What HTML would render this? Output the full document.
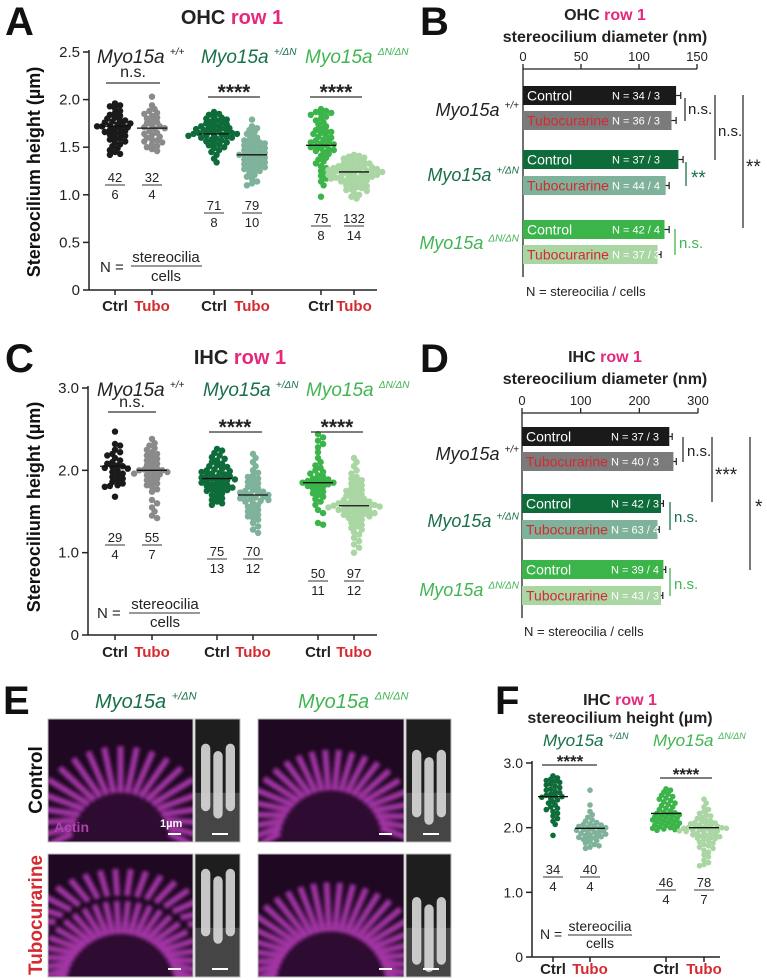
<!DOCTYPE html>
<html><head><meta charset="utf-8">
<style>
html,body{margin:0;padding:0;background:#fff;width:767px;height:980px;overflow:hidden;}
svg{display:block;font-family:"Liberation Sans",Arial,sans-serif;}
</style></head>
<body>
<svg id="fig" width="767" height="980" viewBox="0 0 767 980" xmlns="http://www.w3.org/2000/svg">
<defs>
<filter id="blur" x="-10%" y="-10%" width="120%" height="120%"><feGaussianBlur stdDeviation="1.8"/></filter>
<filter id="blur2"><feGaussianBlur stdDeviation="0.8"/></filter>
</defs>
</svg>
<script>
// ---------- DATA ----------
const ohcCtrlWT=[1.96,1.94,1.93,1.91,1.88,1.86,1.84,1.83,1.81,1.80,1.78,1.77,1.76,1.75,1.74,1.73,1.73,1.72,1.72,1.71,1.70,1.69,1.68,1.67,1.66,1.65,1.64,1.63,1.62,1.60,1.59,1.58,1.56,1.55,1.53,1.51,1.49,1.47,1.45,1.43,1.42,1.78];
const ohcTuboWT=[2.03,1.94,1.90,1.88,1.86,1.85,1.83,1.81,1.80,1.78,1.76,1.75,1.73,1.72,1.71,1.70,1.69,1.67,1.65,1.64,1.63,1.61,1.60,1.58,1.57,1.55,1.53,1.51,1.50,1.48,1.46,1.56];
const ohcCtrlHet=[1.87,1.85,1.84,1.82,1.81,1.80,1.79,1.78,1.77,1.76,1.75,1.74,1.73,1.72,1.72,1.71,1.70,1.70,1.69,1.68,1.68,1.67,1.66,1.66,1.65,1.65,1.64,1.64,1.63,1.63,1.62,1.62,1.61,1.60,1.60,1.59,1.58,1.57,1.56,1.55,1.54,1.53,1.52,1.50,1.49,1.47,1.45,1.42,1.38,1.34];
const ohcTuboHet=[1.79,1.72,1.70,1.68,1.66,1.64,1.62,1.60,1.58,1.57,1.56,1.55,1.54,1.53,1.52,1.51,1.50,1.49,1.48,1.47,1.46,1.45,1.44,1.43,1.42,1.42,1.41,1.40,1.39,1.38,1.37,1.36,1.35,1.34,1.33,1.32,1.31,1.30,1.29,1.28,1.27,1.26,1.25,1.23,1.21,1.19,1.17,1.14,1.12,1.10];
const ohcCtrlHom=[1.90,1.88,1.87,1.86,1.85,1.84,1.82,1.80,1.78,1.76,1.74,1.72,1.70,1.68,1.67,1.66,1.65,1.64,1.62,1.61,1.60,1.58,1.57,1.56,1.55,1.54,1.53,1.52,1.51,1.50,1.49,1.48,1.47,1.46,1.45,1.43,1.41,1.39,1.37,1.35,1.33,1.30,1.28,1.25,1.22,1.20,1.17,1.14,1.10,0.98];
const ohcTuboHom=[1.42,1.41,1.40,1.39,1.38,1.37,1.36,1.35,1.34,1.33,1.32,1.31,1.30,1.30,1.29,1.29,1.28,1.28,1.27,1.27,1.26,1.26,1.25,1.25,1.24,1.24,1.23,1.23,1.22,1.22,1.21,1.21,1.20,1.20,1.19,1.19,1.18,1.18,1.17,1.17,1.16,1.15,1.14,1.13,1.12,1.11,1.10,1.09,1.08,1.07,1.06,1.05,1.04,1.02,1.00,0.98,0.96,1.15,1.25,1.33];
const ohcMeans=[1.72,1.70,1.64,1.42,1.52,1.24];
const ohcNum=["42","32","71","79","75","132"];
const ohcDen=["6","4","8","10","8","14"];
const ohcTicks=[0,0.5,1,1.5,2,2.5];
const ohcTickLabels=["0","0.5","1.0","1.5","2.0","2.5"];
const ihcCtrlWT=[2.47,2.32,2.30,2.25,2.22,2.20,2.18,2.15,2.12,2.10,2.08,2.06,2.05,2.04,2.03,2.02,2.00,1.98,1.96,1.94,1.92,1.90,1.88,1.86,1.84,1.82,1.81,1.80,1.68];
const ihcTuboWT=[2.38,2.33,2.30,2.27,2.25,2.22,2.20,2.18,2.16,2.14,2.12,2.10,2.08,2.06,2.04,2.02,2.01,2.00,2.00,1.99,1.98,1.97,1.96,1.95,1.94,1.92,1.90,1.88,1.86,1.84,1.82,1.80,1.77,1.74,1.64,1.60,1.55,1.50,1.45,1.42];
const ihcCtrlHet=[2.26,2.24,2.21,2.18,2.16,2.14,2.12,2.10,2.08,2.06,2.05,2.04,2.02,2.01,2.00,1.99,1.98,1.97,1.96,1.95,1.94,1.93,1.92,1.91,1.90,1.90,1.89,1.88,1.87,1.86,1.85,1.84,1.83,1.82,1.81,1.80,1.79,1.78,1.77,1.76,1.75,1.74,1.72,1.70,1.68,1.66,1.64,1.62,1.60,1.58];
const ihcTuboHet=[2.20,2.15,2.10,2.05,2.00,1.97,1.94,1.92,1.90,1.88,1.86,1.84,1.82,1.80,1.78,1.76,1.75,1.74,1.73,1.72,1.71,1.70,1.69,1.68,1.67,1.66,1.65,1.64,1.63,1.62,1.60,1.58,1.56,1.54,1.52,1.50,1.48,1.46,1.44,1.42,1.40,1.36,1.32,1.28,1.24];
const ihcCtrlHom=[2.44,2.40,2.36,2.32,2.28,2.22,2.15,2.10,2.06,2.03,2.00,1.98,1.96,1.94,1.92,1.90,1.89,1.88,1.87,1.86,1.85,1.84,1.83,1.82,1.81,1.80,1.78,1.76,1.74,1.72,1.70,1.68,1.65,1.62,1.58,1.52,1.48,1.36,1.34,1.85];
const ihcTuboHom=[2.15,2.10,2.05,2.00,1.96,1.92,1.90,1.88,1.86,1.84,1.82,1.80,1.78,1.76,1.75,1.74,1.72,1.70,1.69,1.68,1.66,1.65,1.64,1.63,1.62,1.61,1.60,1.59,1.58,1.57,1.57,1.56,1.56,1.55,1.55,1.54,1.53,1.52,1.51,1.50,1.49,1.48,1.47,1.46,1.45,1.44,1.43,1.42,1.40,1.38,1.36,1.34,1.32,1.30,1.28,1.25,1.22,1.18,1.14,1.10,1.06,1.00,1.58,1.60,1.52,1.48];
const ihcMeans=[2.05,2.00,1.90,1.70,1.85,1.57];
const ihcNum=["29","55","75","70","50","97"];
const ihcDen=["4","7","13","12","11","12"];
const ihcTicks=[0,1,2,3];
const ihcTickLabels=["0","1.0","2.0","3.0"];
const fCtrlHet=[2.80,2.77,2.75,2.73,2.72,2.70,2.68,2.66,2.64,2.62,2.60,2.58,2.56,2.54,2.52,2.50,2.49,2.48,2.47,2.45,2.43,2.40,2.38,2.35,2.32,2.30,2.28,2.25,2.22,2.18,2.14,2.10,2.05,1.88];
const fTuboHet=[2.58,2.35,2.25,2.20,2.16,2.12,2.10,2.08,2.06,2.04,2.03,2.02,2.01,2.00,1.99,1.98,1.97,1.96,1.95,1.94,1.93,1.92,1.91,1.90,1.89,1.88,1.87,1.86,1.85,1.84,1.83,1.82,1.80,1.78,1.76,1.74,1.72,1.70,1.68,2.05];
const fCtrlHom=[2.60,2.58,2.55,2.52,2.50,2.48,2.46,2.44,2.42,2.40,2.38,2.36,2.34,2.32,2.30,2.28,2.26,2.24,2.23,2.22,2.21,2.20,2.19,2.18,2.17,2.16,2.15,2.14,2.13,2.12,2.11,2.10,2.09,2.08,2.07,2.06,2.05,2.04,2.03,2.02,2.01,2.00,1.99,1.98,1.97,1.96];
const fTuboHom=[2.44,2.38,2.32,2.28,2.25,2.22,2.20,2.18,2.16,2.14,2.12,2.10,2.09,2.08,2.07,2.06,2.05,2.04,2.03,2.02,2.01,2.00,2.00,1.99,1.99,1.98,1.98,1.97,1.96,1.95,1.94,1.93,1.92,1.91,1.90,1.89,1.88,1.87,1.86,1.85,1.84,1.83,1.82,1.80,1.78,1.76,1.74,1.72,1.70,1.68,1.65,1.62,1.58,1.55,1.50,1.46,1.43,1.41,2.00,1.95];
const fMeans=[2.48,1.99,2.22,2.00];
const fNum=["34","40","46","78"];
const fDen=["4","4","4","7"];
const bValues=[132,128,134,123,122,116];
const bErrors=[4,4,4,3,4,3];
const bNLabels=["N = 34 / 3","N = 36 / 3","N = 37 / 3","N = 44 / 4","N = 42 / 4","N = 37 / 3"];
const bTicks=[0,50,100,150];
const dValues=[251,258,237,231,241,237];
const dErrors=[5,5,4,3,4,3];
const dNLabels=["N = 37 / 3","N = 40 / 3","N = 42 / 3","N = 63 / 4","N = 39 / 4","N = 43 / 3"];
const dTicks=[0,100,200,300];
const barCats=["Control","Tubocurarine","Control","Tubocurarine","Control","Tubocurarine"];

// ---------- STYLE ----------
const C_WT='#1a1a1a', C_WT2='#8a8a8a', C_HET='#0e6b3a', C_HET2='#7fb29b', C_HOM='#3bb54a', C_HOM2='#a9d6a3';
const T_HET='#177048', T_HOM='#41b552', PINK='#e6287c', RED='#d42a30';
const svg=document.getElementById('fig');
const NS='http://www.w3.org/2000/svg';

function mk(tag,attrs,name,parent){
  const el=document.createElementNS(NS,tag);
  for(const k in attrs) el.setAttribute(k,attrs[k]);
  
  
  (parent||svg).appendChild(el);
  return el;
}
function txt(x,y,s,o,name,parent){
  o=o||{};
  const el=mk('text',{x:x,y:y,'font-size':o.size||14,'font-weight':o.weight||'normal','font-style':o.style||'normal',fill:o.fill||'#222','text-anchor':o.anchor||'start'},name,parent);
  if(o.rotate!==undefined) el.setAttribute('transform','rotate('+o.rotate+' '+x+' '+y+')');
  el.textContent=s;
  return el;
}
function geno(x,y,sup,fill,size,anchor,name){
  const el=mk('text',{x:x,y:y,'font-size':size,'font-style':'italic',fill:fill,'text-anchor':anchor||'start'},name);
  const t1=mk('tspan',{},'gene-name',el); t1.textContent='Myo15a ';
  const t2=mk('tspan',{'font-size':Math.round(size*0.55),dy:-size*0.42},'genotype-superscript',el); t2.textContent=sup;
  return el;
}
function line(x1,y1,x2,y2,stroke,w,name,parent){return mk('line',{x1:x1,y1:y1,x2:x2,y2:y2,stroke:stroke,'stroke-width':w||1},name,parent);}
function fraction(cx,yb,num,den,name){
  txt(cx,yb,num,{size:13,anchor:'middle',fill:'#222'},name+'-numerator');
  line(cx-10,yb+3,cx+10,yb+3,'#333',1,name+'-line');
  txt(cx,yb+17,den,{size:13,anchor:'middle',fill:'#222'},name+'-denominator');
}
function swarm(values,cx,yScale,r,color,name){
  const placed=[];
  const sorted=values.slice().sort((a,b)=>b-a);
  const step=r*0.8;
  sorted.forEach(v=>{
    const y=yScale(v);
    let k=0,x=cx;
    while(true){
      const off=(k===0?0:Math.ceil(k/2)*step*(k%2?1:-1));
      x=cx+off;
      if(!placed.some(p=>(p[0]-x)**2+(p[1]-y)**2<(r*1.4)**2)) break;
      k++; if(k>40) break;
    }
    placed.push([x,y]);
  });
  placed.forEach(p=>{
    mk('circle',{cx:p[0].toFixed(1),cy:p[1].toFixed(1),r:r,fill:color},name);
  });
}
function scatterPanel(cfg){
  const ys=v=>cfg.y0-(v/cfg.max)*(cfg.y0-cfg.yTop);
  line(cfg.ax,cfg.yTop-2,cfg.ax,cfg.y0,'#222',1.5,'y-axis');
  line(cfg.ax,cfg.y0,cfg.xEnd,cfg.y0,'#222',1.5,'x-axis');
  cfg.ticks.forEach((t,i)=>{
    line(cfg.ax-6,ys(t),cfg.ax,ys(t),'#222',1.5,'y-tick');
    txt(cfg.ax-9,ys(t)+5,cfg.tickLabels[i],{size:cfg.tickSize,anchor:'end',fill:'#222'},'y-tick-label');
  });
  cfg.groups.forEach((g,i)=>{
    const cx=cfg.gx[i];
    line(cx,cfg.y0,cx,cfg.y0+5,'#222',1.5,'x-tick');
    swarm(g,cx,ys,cfg.r,cfg.colors[i],'data-point');
    line(cx-15,ys(cfg.means[i]),cx+15,ys(cfg.means[i]),'#111',1.3,'median-line');
    txt(cx,cfg.labY,i%2?'Tubo':'Ctrl',{size:cfg.labSize,weight:'bold',anchor:'middle',fill:i%2?RED:'#222'},i%2?'x-label-tubo':'x-label-ctrl');
    fraction(cx,cfg.fracY[Math.floor(i/2)],cfg.num[i],cfg.den[i],'n-count');
  });
}
function barPanel(cfg){
  const xs=v=>cfg.x0+v*cfg.k;
  line(cfg.x0,cfg.axY,xs(cfg.ticks[cfg.ticks.length-1]),cfg.axY,'#222',1.3,'x-axis');
  line(cfg.x0,cfg.axY,cfg.x0,cfg.axBottom,'#222',1.3,'y-axis');
  cfg.ticks.forEach(t=>{
    line(xs(t),cfg.axY-5,xs(t),cfg.axY,'#222',1.3,'x-tick');
    txt(xs(t),cfg.axY-8,String(t),{size:13,anchor:'middle'},'x-tick-label');
  });
  cfg.values.forEach((v,i)=>{
    const y=cfg.tops[i];
    mk('rect',{x:cfg.x0,y:y,width:(xs(v)-cfg.x0).toFixed(1),height:cfg.h,fill:cfg.colors[i]},i%2?'bar-tubocurarine':'bar-control');
    const e=cfg.errors[i], ym=y+cfg.h/2;
    line(xs(v),ym,xs(v+e),ym,'#222',1.2,'error-bar');
    line(xs(v+e),ym-3.5,xs(v+e),ym+3.5,'#222',1.2,'error-cap');
    txt(cfg.x0+4,ym+5,barCats[i],{size:14,fill:i%2?RED:'#fff'},'bar-label');
    txt(cfg.x0+89,ym+4,cfg.nLabels[i],{size:11,fill:'#fff'},'bar-n-label');
  });
}
function bracket(x,y1,y2,label,lx,ly,color,size,name){
  line(x,y1,x,y2,color==='#222'?'#333':color,1.3,name+'-line');
  txt(lx,ly,label,{size:size,fill:color},name+'-label');
}

// ---------- PANEL A ----------
txt(5,35,'A',{size:40,weight:'bold',fill:'#111'},'panel-label-a');
const tA=mk('text',{x:232,y:24,'font-size':20,'font-weight':'bold','text-anchor':'middle',fill:'#222'},'title-a');
const tA1=mk('tspan',{},'title-cell',tA); tA1.textContent='OHC ';
const tA2=mk('tspan',{fill:PINK},'title-row',tA); tA2.textContent='row 1';
txt(40,172,'Stereocilium height (µm)',{size:18,weight:'bold',anchor:'middle',rotate:-90,fill:'#111'},'y-axis-title-a');
geno(97,63,'+/+','#222',19,'start','genotype-wt-a');
geno(201,63,'+/ΔN',T_HET,19,'start','genotype-het-a');
geno(305,63,'ΔN/ΔN',T_HOM,19,'start','genotype-hom-a');
scatterPanel({ax:89,y0:290,yTop:52,max:2.5,ticks:ohcTicks,tickLabels:ohcTickLabels,tickSize:15,xEnd:377,
  gx:[115,152,214,252,321,354],groups:[ohcCtrlWT,ohcTuboWT,ohcCtrlHet,ohcTuboHet,ohcCtrlHom,ohcTuboHom],
  colors:[C_WT,C_WT2,C_HET,C_HET2,C_HOM,C_HOM2],means:ohcMeans,r:3.2,labY:311,labSize:15,
  num:ohcNum,den:ohcDen,fracY:[182,210,223]});
line(106,83,160,83,'#333',1.2,'significance-line'); txt(133,77,'n.s.',{size:16,anchor:'middle'},'significance-label');
line(208,97,260,97,'#333',1.2,'significance-line'); txt(234,99,'****',{size:21,anchor:'middle',weight:'bold'},'significance-label');
line(310,97,362,97,'#333',1.2,'significance-line'); txt(336,99,'****',{size:21,anchor:'middle',weight:'bold'},'significance-label');
txt(100,272,'N =',{size:15},'n-legend-label');
txt(166,262,'stereocilia',{size:15,anchor:'middle'},'n-legend-numerator');
line(131,266,202,266,'#333',1,'n-legend-line');
txt(166,281,'cells',{size:15,anchor:'middle'},'n-legend-denominator');

// ---------- PANEL C ----------
txt(5,372,'C',{size:40,weight:'bold',fill:'#111'},'panel-label-c');
const tC=mk('text',{x:240,y:364,'font-size':20,'font-weight':'bold','text-anchor':'middle',fill:'#222'},'title-c');
const tC1=mk('tspan',{},'title-cell',tC); tC1.textContent='IHC ';
const tC2=mk('tspan',{fill:PINK},'title-row',tC); tC2.textContent='row 1';
txt(40,507,'Stereocilium height (µm)',{size:18,weight:'bold',anchor:'middle',rotate:-90,fill:'#111'},'y-axis-title-c');
geno(97,396,'+/+','#222',19,'start','genotype-wt-c');
geno(203,396,'+/ΔN',T_HET,19,'start','genotype-het-c');
geno(306,396,'ΔN/ΔN',T_HOM,19,'start','genotype-hom-c');
scatterPanel({ax:88,y0:635,yTop:388,max:3,ticks:ihcTicks,tickLabels:ihcTickLabels,tickSize:15,xEnd:377,
  gx:[115,152,217,253,318,354],groups:[ihcCtrlWT,ihcTuboWT,ihcCtrlHet,ihcTuboHet,ihcCtrlHom,ihcTuboHom],
  colors:[C_WT,C_WT2,C_HET,C_HET2,C_HOM,C_HOM2],means:ihcMeans,r:3.2,labY:657,labSize:15,
  num:ihcNum,den:ihcDen,fracY:[542,556,578]});
line(108,412,156,412,'#333',1.2,'significance-line'); txt(132,407,'n.s.',{size:16,anchor:'middle'},'significance-label');
line(209,432,262,432,'#333',1.2,'significance-line'); txt(235,434,'****',{size:21,anchor:'middle',weight:'bold'},'significance-label');
line(311,432,363,432,'#333',1.2,'significance-line'); txt(337,434,'****',{size:21,anchor:'middle',weight:'bold'},'significance-label');
txt(97,618,'N =',{size:15},'n-legend-label');
txt(165,609,'stereocilia',{size:15,anchor:'middle'},'n-legend-numerator');
line(129,613,200,613,'#333',1,'n-legend-line');
txt(165,627,'cells',{size:15,anchor:'middle'},'n-legend-denominator');

// ---------- PANEL B ----------
txt(420,35,'B',{size:40,weight:'bold',fill:'#111'},'panel-label-b');
const tB=mk('text',{x:605,y:20,'font-size':16,'font-weight':'bold','text-anchor':'middle',fill:'#222'},'title-b');
const tB1=mk('tspan',{},'title-cell',tB); tB1.textContent='OHC ';
const tB2=mk('tspan',{fill:PINK},'title-row',tB); tB2.textContent='row 1';
txt(605,42,'stereocilium diameter (nm)',{size:16,weight:'bold',anchor:'middle'},'axis-title-b');
barPanel({x0:523,k:174/150,axY:69,axBottom:277,ticks:bTicks,values:bValues,errors:bErrors,nLabels:bNLabels,
  tops:[86,111,150,176,220,245],h:19,colors:[C_WT,'#7b7b7b',C_HET,C_HET2,C_HOM,C_HOM2]});
geno(519,116,'+/+','#222',18,'end','genotype-wt-b');
geno(519,181,'+/ΔN',T_HET,18,'end','genotype-het-b');
geno(519,249,'ΔN/ΔN',T_HOM,18,'end','genotype-hom-b');
bracket(685,98,121,'n.s.',688,114,'#222',15,'significance-wt');
bracket(715,95,160,'n.s.',718,136,'#222',15,'significance-wt-het');
bracket(686,162,186,'**',691,184,T_HET,19,'significance-het');
bracket(675,229,255,'n.s.',679,248,T_HOM,15,'significance-hom');
bracket(743,95,228,'**',746,173,'#222',19,'significance-wt-hom');
txt(526,296,'N = stereocilia / cells',{size:13},'n-legend-b');

// ---------- PANEL D ----------
txt(420,372,'D',{size:40,weight:'bold',fill:'#111'},'panel-label-d');
const tD=mk('text',{x:605,y:362,'font-size':16,'font-weight':'bold','text-anchor':'middle',fill:'#222'},'title-d');
const tD1=mk('tspan',{},'title-cell',tD); tD1.textContent='IHC ';
const tD2=mk('tspan',{fill:PINK},'title-row',tD); tD2.textContent='row 1';
txt(605,384,'stereocilium diameter (nm)',{size:16,weight:'bold',anchor:'middle'},'axis-title-d');
barPanel({x0:522,k:176/300,axY:413,axBottom:618,ticks:dTicks,values:dValues,errors:dErrors,nLabels:dNLabels,
  tops:[427,452,494,520,560,586],h:19,colors:[C_WT,'#7b7b7b',C_HET,C_HET2,C_HOM,C_HOM2]});
geno(519,460,'+/+','#222',18,'end','genotype-wt-d');
geno(519,527,'+/ΔN',T_HET,18,'end','genotype-het-d');
geno(519,596,'ΔN/ΔN',T_HOM,18,'end','genotype-hom-d');
bracket(683,437,462,'n.s.',687,456,'#222',15,'significance-wt');
bracket(712,437,502,'***',715,481,'#222',19,'significance-wt-het');
bracket(670,502,530,'n.s.',674,522,T_HET,15,'significance-het');
bracket(670,568,596,'n.s.',674,589,T_HOM,15,'significance-hom');
bracket(750,437,570,'*',755,513,'#222',19,'significance-wt-hom');
txt(524,636,'N = stereocilia / cells',{size:13},'n-legend-d');

// ---------- PANEL E (images) ----------
txt(3,714,'E',{size:40,weight:'bold',fill:'#111'},'panel-label-e');
geno(95,708,'+/ΔN',T_HET,20,'start','genotype-het-e');
geno(298,708,'ΔN/ΔN',T_HOM,20,'start','genotype-hom-e');
txt(42,780,'Control',{size:19,weight:'bold',anchor:'middle',rotate:-90,fill:'#111'},'row-label-control');
txt(42,915,'Tubocurarine',{size:19,weight:'bold',anchor:'middle',rotate:-90,fill:RED},'row-label-tubocurarine');
let clipId=0;
function confocal(x,y,w,h,rows,name){
  const g=mk('g',{},name);
  const cp=mk('clipPath',{id:'cp'+clipId},'clip',g);
  mk('rect',{x:x,y:y,width:w,height:h},'clip-rect',cp);
  const inner=mk('g',{'clip-path':'url(#cp'+(clipId++)+')'},'image-content',g);
  mk('rect',{x:x,y:y,width:w,height:h,fill:'#1f0822'},'image-background',inner);
  mk('ellipse',{cx:x+w*0.5,cy:y+h*1.0,rx:w*0.45,ry:h*0.45,fill:'#2e0b31'},'cell-glow',inner);
  const sg=mk('g',{filter:'url(#blur)',opacity:0.85},'stereocilia',inner);
  rows.forEach(rw=>{
    for(let a=190;a<=350;a+=rw.step){
      const rad=a*Math.PI/180, cx=x+w*0.5, cy=y+h*rw.cy;
      const r1=h*rw.r1, r2=h*rw.r2;
      const tilt=(a-270)*0.004;
      line((cx+r1*Math.cos(rad)).toFixed(1),(cy+r1*Math.sin(rad)).toFixed(1),(cx+r2*Math.cos(rad+tilt)).toFixed(1),(cy+r2*Math.sin(rad+tilt)).toFixed(1),'#b83cba',6,'stereocilium',sg);
    }
  });
  mk('rect',{x:x,y:y,width:w,height:h,fill:'none',stroke:'#bbb','stroke-width':1},'image-border',g);
  line(x+w-25,y+h-8,x+w-12,y+h-8,'#fff',2,'scale-bar',g);
}
function sem(x,y,w,h,n,top,name){
  const g=mk('g',{},name);
  mk('rect',{x:x,y:y,width:w,height:h,fill:'#1e1e1e'},'sem-background',g);
  mk('rect',{x:x,y:y+h*0.6,width:w,height:h*0.4,fill:'#555',opacity:0.7},'sem-base',g);
  for(let i=0;i<n;i++){
    const cx=x+6+i*(w-8)/n;
    mk('rect',{x:cx,y:y+h*(top+(i%2)*0.06),width:(w-8)/n-3,height:h*0.55,rx:5,fill:'#d8d8d8',opacity:0.9},'sem-stereocilium',g);
  }
  mk('rect',{x:x,y:y,width:w,height:h,fill:'none',stroke:'#bbb','stroke-width':1},'sem-border',g);
  line(x+w-28,y+h-8,x+w-12,y+h-8,'#fff',2,'scale-bar',g);
}
confocal(48,719,145,123,[{cy:1.0,r1:0.4,r2:0.78,step:8}],'confocal-het-control');
sem(195,719,45,123,3,0.2,'sem-het-control');
confocal(258,719,146,123,[{cy:1.0,r1:0.42,r2:0.75,step:7}],'confocal-hom-control');
sem(406,719,45,123,3,0.25,'sem-hom-control');
confocal(48,854,145,123,[{cy:1.1,r1:0.45,r2:0.72,step:6},{cy:1.1,r1:0.76,r2:0.98,step:6}],'confocal-het-tubocurarine');
sem(195,854,45,123,3,0.12,'sem-het-tubocurarine');
confocal(258,854,146,123,[{cy:1.08,r1:0.45,r2:0.85,step:6}],'confocal-hom-tubocurarine');
sem(406,854,45,123,3,0.35,'sem-hom-tubocurarine');
txt(54,832,'Actin',{size:14,weight:'bold',fill:'#b040b0'},'actin-label');
txt(160,827,'1µm',{size:11,weight:'bold',fill:'#fff'},'scale-bar-label');

// ---------- PANEL F ----------
txt(495,714,'F',{size:40,weight:'bold',fill:'#111'},'panel-label-f');
const tF=mk('text',{x:620,y:705,'font-size':16,'font-weight':'bold','text-anchor':'middle',fill:'#222'},'title-f');
const tF1=mk('tspan',{},'title-cell',tF); tF1.textContent='IHC ';
const tF2=mk('tspan',{fill:PINK},'title-row',tF); tF2.textContent='row 1';
txt(620,723,'stereocilium height (µm)',{size:16,weight:'bold',anchor:'middle'},'axis-title-f');
geno(543,746,'+/ΔN',T_HET,17,'start','genotype-het-f');
geno(653,746,'ΔN/ΔN',T_HOM,17,'start','genotype-hom-f');
scatterPanel({ax:532,y0:957,yTop:763,max:3,ticks:ihcTicks,tickLabels:ihcTickLabels,tickSize:14,xEnd:720,
  gx:[553,590,666,704],groups:[fCtrlHet,fTuboHet,fCtrlHom,fTuboHom],
  colors:[C_HET,C_HET2,C_HOM,C_HOM2],means:fMeans,r:2.8,labY:974,labSize:15,
  num:fNum,den:fDen,fracY:[874,887]});
line(542,765,597,765,'#333',1.2,'significance-line'); txt(570,767,'****',{size:17,anchor:'middle',weight:'bold'},'significance-label');
line(660,778,712,778,'#333',1.2,'significance-line'); txt(686,780,'****',{size:17,anchor:'middle',weight:'bold'},'significance-label');
txt(540,939,'N =',{size:14},'n-legend-label');
txt(600,931,'stereocilia',{size:14,anchor:'middle'},'n-legend-numerator');
line(568,935,632,935,'#333',1,'n-legend-line');
txt(600,948,'cells',{size:14,anchor:'middle'},'n-legend-denominator');
</script>
</body></html>
